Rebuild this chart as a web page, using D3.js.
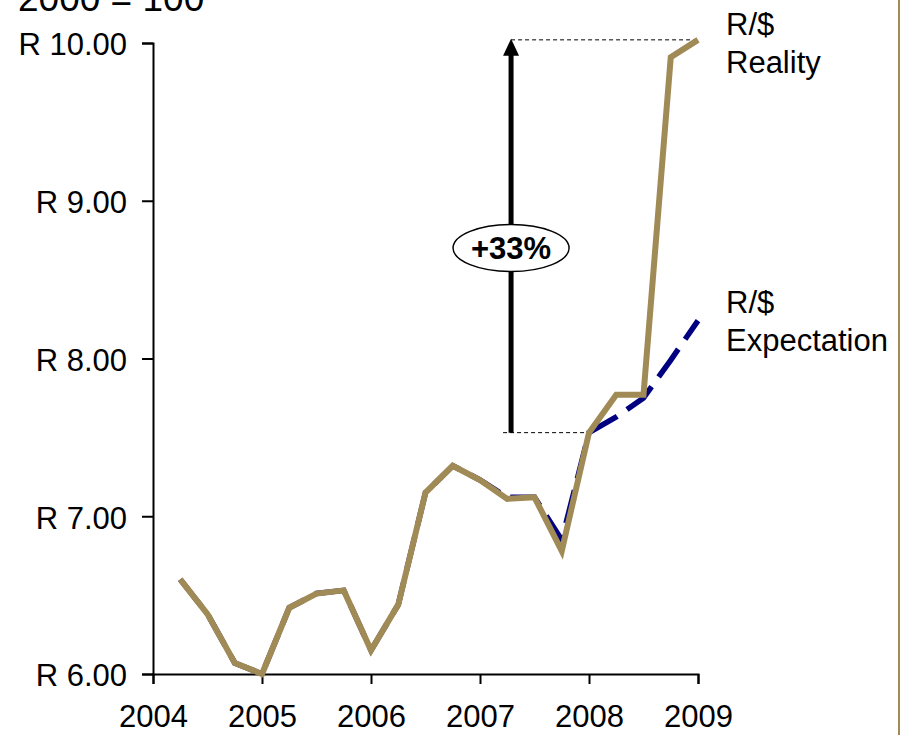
<!DOCTYPE html>
<html>
<head>
<meta charset="utf-8">
<script src="https://cdn.jsdelivr.net/npm/d3@7"></script>
<style>
  html, body { margin: 0; padding: 0; background: #fff; }
  svg { display: block; font-family: Arial, "Liberation Sans", sans-serif; }
</style>
</head>
<body>
<svg id="chart" width="908" height="735"></svg>
<script>
// Quarterly observations of the rand / dollar rate
const quarters = [2004.25, 2004.5, 2004.75, 2005, 2005.25, 2005.5, 2005.75, 2006,
                  2006.25, 2006.5, 2006.75, 2007, 2007.25, 2007.5, 2007.75, 2008,
                  2008.25, 2008.5, 2008.75, 2009];
const reality = [6.60, 6.38, 6.07, 6.00, 6.42, 6.51, 6.53, 6.15,
                 6.44, 7.15, 7.32, 7.23, 7.11, 7.12, 6.78, 7.53,
                 7.77, 7.77, 9.91, 10.02];
const expectation = [6.60, 6.38, 6.07, 6.00, 6.42, 6.51, 6.53, 6.15,
                     6.44, 7.15, 7.32, 7.23, 7.12, 7.12, 6.85, 7.53,
                     7.63, 7.75, 7.99, 8.24];
const yTicks = [6, 7, 8, 9, 10];
const xTicks = [2004, 2005, 2006, 2007, 2008, 2009];
const gainLabel = "+33%";
const arrowDate = 2007.285;

const svg = d3.select("#chart");
const x = d3.scaleLinear().domain([2004, 2009]).range([153, 698]);
const y = d3.scaleLinear().domain([6, 10]).range([674, 43]);

const tan = "#A08A55";
const navy = "#000080";

// Frame edge on the right
svg.append("line")
  .attr("x1", 899).attr("x2", 899).attr("y1", 0).attr("y2", 735)
  .attr("stroke", tan).attr("stroke-width", 2);

// Index base note at the top
svg.append("text")
  .attr("x", 18).attr("y", 11)
  .attr("font-size", 37).attr("fill", "#000")
  .text("2000 = 100");

// Axes
const yAxis = d3.axisLeft(y).tickValues(yTicks).tickSize(11).tickPadding(15)
  .tickFormat(d => "R " + d.toFixed(2));
const gy = svg.append("g").attr("transform", "translate(153,0)").call(yAxis);
gy.selectAll("text").attr("font-size", 31).attr("fill", "#000").attr("dy", "0.38em");

const xAxis = d3.axisBottom(x).tickValues(xTicks).tickSize(10).tickPadding(21)
  .tickFormat(d3.format("d"));
const gx = svg.append("g").attr("transform", "translate(0,674)").call(xAxis);
gx.selectAll("text").attr("font-size", 31).attr("fill", "#000");

[gx, gy].forEach(g => {
  g.select(".domain").attr("stroke", "#000").attr("stroke-width", 2);
  g.selectAll(".tick line").attr("stroke", "#000").attr("stroke-width", 2);
});

// Annotation: guide lines at the start and end levels
const ax = x(arrowDate);
const yStart = reality[quarters.indexOf(2008)];
const yEnd = reality[reality.length - 1];
svg.append("line")
  .attr("x1", ax).attr("x2", x(2009))
  .attr("y1", y(yEnd)).attr("y2", y(yEnd))
  .attr("stroke", "#000").attr("stroke-width", 1).attr("stroke-dasharray", "4,3");
svg.append("line")
  .attr("x1", ax - 8).attr("x2", x(2008))
  .attr("y1", y(yStart)).attr("y2", y(yStart))
  .attr("stroke", "#000").attr("stroke-width", 1).attr("stroke-dasharray", "4,3");

// Series lines
const line = d3.line().x((d, i) => x(quarters[i])).y(d => y(d));
svg.append("path").datum(expectation)
  .attr("d", line).attr("fill", "none")
  .attr("stroke", navy).attr("stroke-width", 5.5)
  .attr("stroke-dasharray", "34,12");
svg.append("path").datum(reality)
  .attr("d", line).attr("fill", "none")
  .attr("stroke", tan).attr("stroke-width", 6)
  .attr("stroke-linejoin", "miter");

// Arrow from the start level up to the end level
const tipY = y(yEnd) - 1;
svg.append("line")
  .attr("x1", ax).attr("x2", ax)
  .attr("y1", y(yStart)).attr("y2", tipY + 12)
  .attr("stroke", "#000").attr("stroke-width", 5);
svg.append("path")
  .attr("d", `M${ax},${tipY} L${ax - 8},${tipY + 17} L${ax + 8},${tipY + 17} Z`)
  .attr("fill", "#000");

// Percentage badge
const badgeY = 248;
svg.append("ellipse")
  .attr("cx", ax).attr("cy", badgeY).attr("rx", 58).attr("ry", 23.5)
  .attr("fill", "#fff").attr("stroke", "#000").attr("stroke-width", 1.5);
svg.append("text")
  .attr("x", ax).attr("y", badgeY).attr("dy", "0.36em")
  .attr("text-anchor", "middle").attr("font-size", 31).attr("font-weight", "bold")
  .text(gainLabel);

// Series labels
const labels = [
  { lines: ["R/$", "Reality"], y: 35 },
  { lines: ["R/$", "Expectation"], y: 313 }
];
labels.forEach(l => {
  const t = svg.append("text").attr("x", 726).attr("y", l.y).attr("font-size", 31);
  l.lines.forEach((s, i) => {
    t.append("tspan").attr("x", 726).attr("dy", i === 0 ? 0 : 38).text(s);
  });
});
</script>
</body>
</html>
